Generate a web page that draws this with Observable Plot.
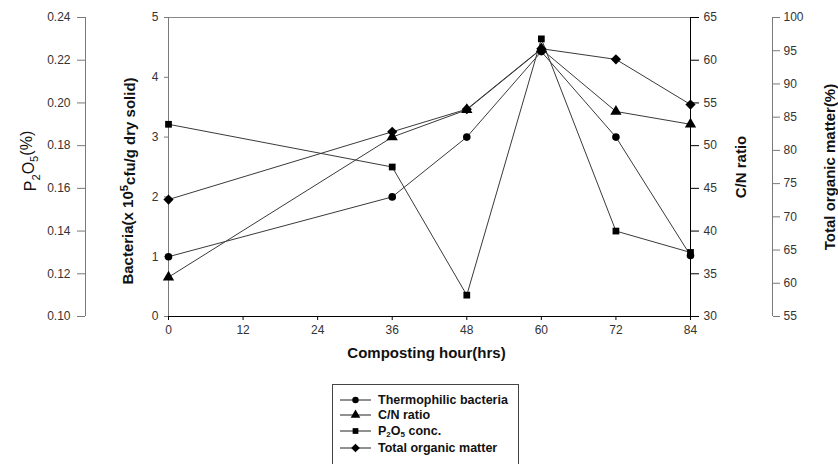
<!DOCTYPE html>
<html><head><meta charset="utf-8">
<script src="https://cdn.jsdelivr.net/npm/d3@7"></script>
<script src="https://cdn.jsdelivr.net/npm/@observablehq/plot@0.6"></script>
<style>
body{margin:0;background:#fff;font-family:Arial,"Liberation Sans",sans-serif;}
#wrap{position:relative;width:838px;height:464px;overflow:hidden;background:#fff}
#legend{position:absolute;left:332px;top:384px;width:187px;height:100px;border:1px solid #444;box-sizing:border-box;background:#fff}
.row{position:absolute;left:7px;height:16px;display:flex;align-items:center;font-weight:bold;font-size:12.5px;color:#111;white-space:nowrap}
.row svg{margin-right:7px}
.row sub{font-size:8px;vertical-align:-2px;line-height:0}
</style></head><body><div id="wrap"><div id="chart"></div><div id="legend"></div></div>
<script>
// ---- data ----
const hours = [0, 36, 48, 60, 72, 84];
const bacteria = [1.0, 2.0, 3.0, 4.43, 3.0, 1.02];
const cnRatio = [34.6, 51.0, 54.2, 61.3, 54.0, 52.5];
const p2o5 = [0.190, 0.170, 0.110, 0.230, 0.140, 0.130];
const organicMatter = [72.6, 82.8, 86.2, 95.3, 93.7, 86.9];

const xTicks = [0, 12, 24, 36, 48, 60, 72, 84];
const bacteriaTicks = [0, 1, 2, 3, 4, 5];
const p2o5Ticks = [0.10, 0.12, 0.14, 0.16, 0.18, 0.20, 0.22, 0.24];
const cnTicks = [30, 35, 40, 45, 50, 55, 60, 65];
const omTicks = [55, 60, 65, 70, 75, 80, 85, 90, 95, 100];
const seriesNames = ["Thermophilic bacteria", "C/N ratio", "P2O5 conc.", "Total organic matter"];
const seriesSymbols = ["circle", "triangle", "square", "diamond2"];
const seriesR = [3.8, 4.2, 3.8, 4.6];

// map secondary axes onto the primary (bacteria) domain
const pScale = d3.scaleLinear([0.10, 0.24], [0, 5]);
const cnScale = d3.scaleLinear([30, 65], [0, 5]);
const omScale = d3.scaleLinear([55, 100], [0, 5]);

const rows = [];
hours.forEach((h, i) => {
  rows.push({series: seriesNames[0], h, v: bacteria[i]});
  rows.push({series: seriesNames[1], h, v: cnScale(cnRatio[i])});
  rows.push({series: seriesNames[2], h, v: pScale(p2o5[i])});
  rows.push({series: seriesNames[3], h, v: omScale(organicMatter[i])});
});

const tickFont = {fontSize: 12, fill: "#333"};
const gray = "#7a7a7a";
const titleStyle = {rotate: -90, textAnchor: "middle", fill: "#111", fontSize: 15, fontWeight: "bold"};

const plot = Plot.plot({
  width: 838, height: 380,
  marginTop: 17, marginBottom: 64, marginLeft: 168, marginRight: 148,
  style: {fontFamily: "Arial, 'Liberation Sans', sans-serif", background: "#fff"},
  x: {domain: [0, 84]},
  y: {domain: [0, 5]},
  marks: [
    // frame / axis lines
    Plot.ruleY([5], {stroke: "#888"}),
    Plot.ruleX([0], {stroke: gray}),
    Plot.ruleX([0], {stroke: gray, dx: -83}),
    Plot.ruleX([84], {stroke: gray, dx: 82}),
    Plot.ruleX([84], {stroke: "#000"}),
    Plot.ruleY([0], {stroke: "#000"}),
    // axes
    Plot.axisX({ticks: xTicks, tickFormat: d => d, tickSize: 4, tickPadding: 5, label: null, stroke: "#000", ...tickFont}),
    Plot.axisY({anchor: "left", ticks: bacteriaTicks, tickFormat: d => d, tickSize: 4, tickPadding: 6, label: null, stroke: gray, ...tickFont}),
    Plot.axisY({anchor: "left", dx: -83, ticks: p2o5Ticks.map(pScale), tickFormat: v => pScale.invert(v).toFixed(2), tickSize: 8, tickPadding: 7, label: null, stroke: gray, ...tickFont}),
    Plot.axisY({anchor: "right", ticks: cnTicks.map(cnScale), tickFormat: v => Math.round(cnScale.invert(v)), tickSize: 8, tickPadding: 5, label: null, stroke: "#000", ...tickFont}),
    Plot.axisY({anchor: "right", dx: 82, ticks: omTicks.map(omScale), tickFormat: v => Math.round(omScale.invert(v)), tickSize: 7, tickPadding: 4, label: null, stroke: gray, ...tickFont}),
    // titles
    Plot.text(["P2O5(%)"], {frameAnchor: "left", dx: -138, dy: -6, ...titleStyle, fontSize: 16, fontWeight: "normal", className: "ttl-p"}),
    Plot.text(["Bacteria(x 105cfu/g dry solid)"], {frameAnchor: "left", dx: -40, dy: 14, ...titleStyle, className: "ttl-b"}),
    Plot.text(["C/N ratio"], {frameAnchor: "right", dx: 51, dy: 0, ...titleStyle}),
    Plot.text(["Total organic matter(%)"], {frameAnchor: "right", dx: 140, dy: 0, ...titleStyle}),
    Plot.text(["Composting hour(hrs)"], {frameAnchor: "bottom", dx: -3, dy: 41, fontSize: 15, fontWeight: "bold", fill: "#111"}),
    // series
    Plot.line(rows, {x: "h", y: "v", z: "series", stroke: "#3a3a3a", strokeWidth: 1}),
    ...seriesNames.map((s, k) => Plot.dot(rows.filter(d => d.series === s), {x: "h", y: "v", symbol: () => seriesSymbols[k], r: seriesR[k], fill: "#000", stroke: "none"}))
  ]
});
document.getElementById("chart").appendChild(plot);

// subscripts / superscripts in titles
function richText(sel, parts) {
  const t = d3.select(plot).select(sel + " text");
  t.text(null);
  parts.forEach(([s, kind]) => {
    const ts = t.append("tspan").text(s);
    if (kind === "sub") ts.attr("font-size", "0.7em").attr("dy", "0.35em");
    if (kind === "sup") ts.attr("font-size", "0.75em").attr("dy", "-0.45em");
    if (kind === "resetSub") ts.attr("dy", "-0.35em");
    if (kind === "resetSup") ts.attr("dy", "0.45em");
  });
}
richText("g.ttl-p", [["P"], ["2", "sub"], ["O", "resetSub"], ["5", "sub"], ["(%)", "resetSub"]]);
richText("g.ttl-b", [["Bacteria(x 10"], ["5", "sup"], ["cfu/g dry solid)", "resetSup"]]);

// legend
const d3Symbols = {circle: d3.symbolCircle, triangle: d3.symbolTriangle, square: d3.symbolSquare, diamond2: d3.symbolDiamond2};
const legend = d3.select("#legend");
const labelsHtml = ["Thermophilic bacteria", "C/N ratio", "P<sub>2</sub>O<sub>5</sub> conc.", "Total organic matter"];
const rowTops = [7, 22, 38, 55];
seriesNames.forEach((s, k) => {
  const row = legend.append("div").attr("class", "row").style("top", rowTops[k] + "px");
  const svg = row.append("svg").attr("width", 31).attr("height", 12);
  svg.append("line").attr("x1", 0).attr("x2", 31).attr("y1", 6).attr("y2", 6).attr("stroke", "#222");
  svg.append("path").attr("transform", "translate(15.5,6)")
    .attr("d", d3.symbol(d3Symbols[seriesSymbols[k]], Math.PI * Math.pow(seriesR[k] * 0.85, 2))())
    .attr("fill", "#000");
  row.append("span").html(labelsHtml[k]);
});
</script>
</body></html>
